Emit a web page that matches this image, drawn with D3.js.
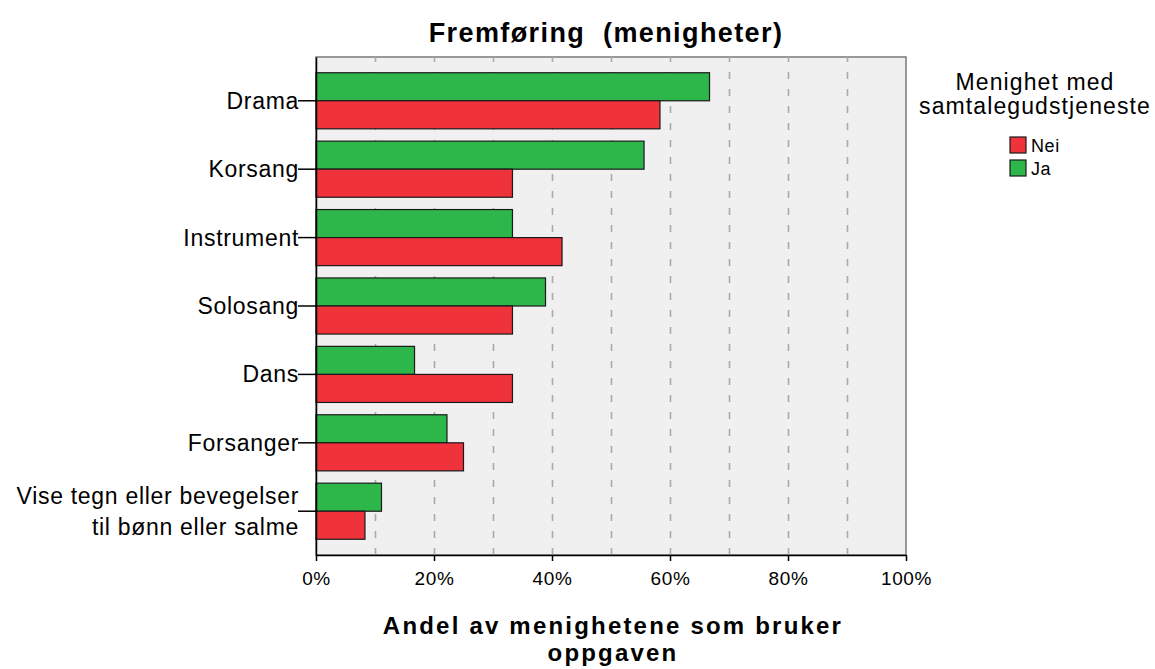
<!DOCTYPE html>
<html>
<head>
<meta charset="utf-8">
<script src="https://cdn.jsdelivr.net/npm/d3@7"></script>
<style>
  body { margin: 0; background: #fff; }
  svg text { font-family: "Liberation Sans", Arial, sans-serif; fill: #000; }
</style>
</head>
<body>
<div id="chart"></div>
<script>
// Data (share of congregations, %)
const categories = ['Drama', 'Korsang', 'Instrument', 'Solosang', 'Dans', 'Forsanger', 'Vise tegn eller bevegelser\ntil bønn eller salme'];
const jaValues = [66.7, 55.6, 33.3, 38.9, 16.7, 22.2, 11.1];
const neiValues = [58.3, 33.3, 41.7, 33.3, 33.3, 25.0, 8.3];
const groups = ['Ja', 'Nei'];
const legendItems = ['Nei', 'Ja'];
const xTicks = [0, 20, 40, 60, 80, 100];
const gridTicks = [10, 20, 30, 40, 50, 60, 70, 80, 90];

const colors = { Ja: '#2db74a', Nei: '#f0323b' };

function createChart() {
  const width = 1155;
  const height = 669;
  const usableArea = { left: 316, right: 906, top: 57, bottom: 555 };

  const rows = categories.map((c, i) => ({ category: c, Ja: jaValues[i], Nei: neiValues[i] }));

  const svg = d3.select('#chart')
    .append('svg')
    .attr('width', width)
    .attr('height', height);

  const xScale = d3.scaleLinear().domain([0, 100]).range([usableArea.left, usableArea.right]);

  const yScale = d3.scaleBand()
    .domain(categories)
    .range([usableArea.top, usableArea.bottom])
    .paddingInner(0.18)
    .paddingOuter(0.23);

  const subScale = d3.scaleBand().domain(groups).range([0, yScale.bandwidth()]);

  // plot background
  svg.append('rect')
    .attr('x', usableArea.left)
    .attr('y', usableArea.top)
    .attr('width', usableArea.right - usableArea.left)
    .attr('height', usableArea.bottom - usableArea.top)
    .attr('fill', '#f0f0f0')
    .attr('stroke', '#7a7a7a')
    .attr('stroke-width', 1.5);

  // dashed gridlines
  svg.append('g')
    .attr('class', 'gridlines')
    .attr('transform', `translate(0, ${usableArea.bottom})`)
    .call(d3.axisBottom(xScale).tickValues(gridTicks).tickFormat('').tickSize(-(usableArea.bottom - usableArea.top)))
    .call((g) => g.select('.domain').remove())
    .call((g) => g.selectAll('line')
      .attr('stroke', '#aaaaaa')
      .attr('stroke-width', 1.6)
      .attr('stroke-dasharray', '7,10'));

  // bars
  const bars = svg.append('g').attr('class', 'bars');
  bars.selectAll('g')
    .data(rows)
    .join('g')
    .attr('transform', (d) => `translate(0, ${yScale(d.category)})`)
    .selectAll('rect')
    .data((d) => groups.map((k) => ({ key: k, value: d[k] })))
    .join('rect')
    .attr('x', xScale(0))
    .attr('y', (d) => subScale(d.key))
    .attr('width', (d) => xScale(d.value) - xScale(0))
    .attr('height', subScale.bandwidth())
    .attr('fill', (d) => colors[d.key])
    .attr('stroke', '#1a1a1a')
    .attr('stroke-width', 1.2);

  // x axis
  const xAxis = svg.append('g')
    .attr('transform', `translate(0, ${usableArea.bottom})`)
    .call(d3.axisBottom(xScale).tickValues(xTicks).tickFormat((d) => d + '%').tickSize(6).tickSizeOuter(0));
  xAxis.select('.domain').attr('stroke', '#000').attr('stroke-width', 1.5);
  xAxis.selectAll('line').attr('stroke', '#000').attr('stroke-width', 1.5);
  xAxis.selectAll('text')
    .attr('y', 17)
    .style('font-size', '19px')
    .style('letter-spacing', '0.6px')
    .style('font-family', '"Liberation Sans", Arial, sans-serif')
    .attr('fill', '#000');

  // y axis
  const yAxis = svg.append('g')
    .attr('transform', `translate(${usableArea.left}, 0)`)
    .call(d3.axisLeft(yScale).tickSize(18).tickSizeOuter(0).tickFormat(''));
  yAxis.select('.domain').attr('stroke', '#000').attr('stroke-width', 1.5);
  yAxis.selectAll('line').attr('stroke', '#000').attr('stroke-width', 1.5);

  yAxis.selectAll('.tick').each(function (d) {
    const lines = d.split('\n');
    const t = d3.select(this).append('text')
      .attr('text-anchor', 'end')
      .style('font-size', '23px')
      .style('letter-spacing', '0.7px')
      .style('font-family', '"Liberation Sans", Arial, sans-serif')
      .attr('fill', '#000');
    const lh = 31;
    lines.forEach((line, i) => {
      t.append('tspan')
        .attr('x', -17)
        .attr('y', (i - (lines.length - 1) / 2) * lh + 8)
        .text(line);
    });
  });

  // title
  svg.append('text')
    .attr('x', 606)
    .attr('y', 42)
    .attr('text-anchor', 'middle')
    .style('font-size', '27px')
    .style('font-weight', 'bold')
    .style('letter-spacing', '1.4px')
    .style('white-space', 'pre')
    .text('Fremføring  (menigheter)');

  // x axis title
  const xt = svg.append('text')
    .attr('text-anchor', 'middle')
    .style('font-size', '24px')
    .style('font-weight', 'bold')
    .style('letter-spacing', '2.2px');
  xt.append('tspan').attr('x', 613).attr('y', 634).text('Andel av menighetene som bruker');
  xt.append('tspan').attr('x', 613).attr('y', 661).text('oppgaven');

  // legend
  const legend = svg.append('g').attr('class', 'legend');
  legend.append('text')
    .attr('text-anchor', 'middle')
    .style('font-size', '23px')
    .style('letter-spacing', '1.1px')
    .selectAll('tspan')
    .data(['Menighet med', 'samtalegudstjeneste'])
    .join('tspan')
    .attr('x', 1035)
    .attr('y', (d, i) => 90 + i * 24)
    .text((d) => d);

  const items = legend.selectAll('g.item')
    .data(legendItems)
    .join('g')
    .attr('class', 'item')
    .attr('transform', (d, i) => `translate(1010, ${137 + i * 23})`);
  items.append('rect')
    .attr('width', 16)
    .attr('height', 16)
    .attr('fill', (d) => colors[d])
    .attr('stroke', '#1a1a1a')
    .attr('stroke-width', 1.2);
  items.append('text')
    .attr('x', 21)
    .attr('y', 15)
    .style('font-size', '18px')
    .style('letter-spacing', '0.6px')
    .text((d) => d);
}

document.addEventListener('DOMContentLoaded', createChart);
</script>
</body>
</html>
